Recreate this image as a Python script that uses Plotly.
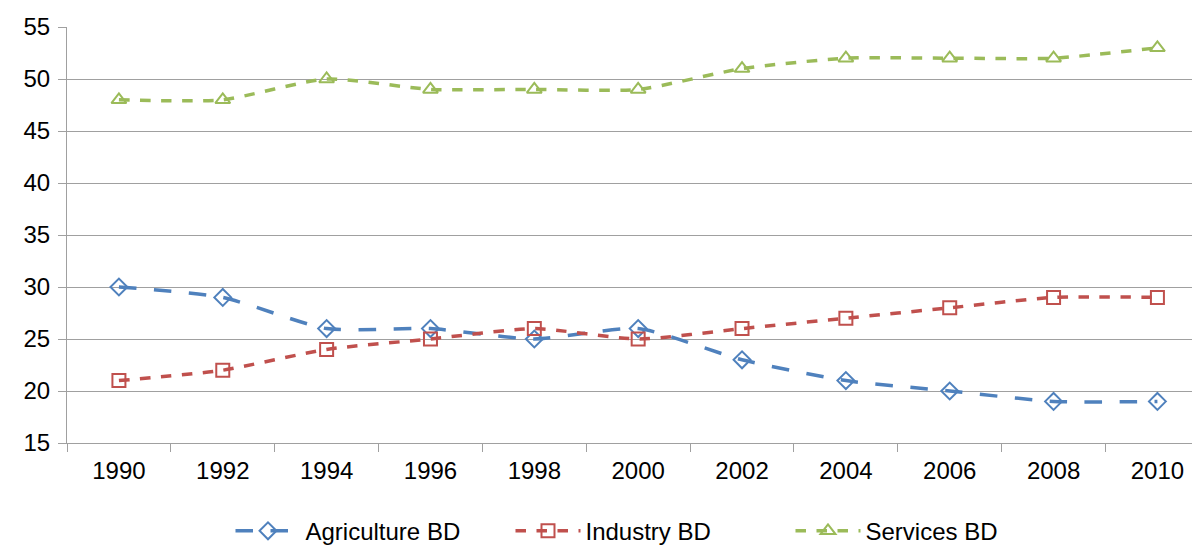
import plotly.graph_objects as go

years = ["1990", "1992", "1994", "1996", "1998", "2000", "2002", "2004", "2006", "2008", "2010"]
agriculture = [30, 29, 26, 26, 25, 26, 23, 21, 20, 19, 19]
industry = [21, 22, 24, 25, 26, 25, 26, 27, 28, 29, 29]
services = [48, 48, 50, 49, 49, 49, 51, 52, 52, 52, 53]

series = [
    ("Agriculture BD", agriculture, "#4F81BD", "diamond-open", "longdash"),
    ("Industry BD", industry, "#C0504D", "square-open", "dash"),
    ("Services BD", services, "#9BBB59", "triangle-up-open", "dash"),
]

fig = go.Figure()
for name, vals, color, symbol, dash in series:
    fig.add_trace(
        go.Scatter(
            x=years,
            y=vals,
            name=name,
            mode="lines+markers",
            line=dict(color=color, width=3.5, dash=dash, shape="spline", smoothing=0.6),
            marker=dict(symbol=symbol, size=13, color=color, line=dict(width=2, color=color)),
        )
    )

# page body has an 8px margin, so the figure is sized to fill the rest
fig.update_layout(
    width=1192,
    height=538,
    paper_bgcolor="white",
    plot_bgcolor="white",
    margin=dict(l=59, r=0, t=19, b=103, autoexpand=False),
    font=dict(family="Liberation Sans, Arial, sans-serif", size=24, color="#000000"),
    showlegend=True,
    legend=dict(
        orientation="h",
        x=0.515,
        xanchor="center",
        y=-0.212,
        yanchor="middle",
        font=dict(size=24),
        itemwidth=65,
        entrywidth=200,
        tracegroupgap=0,
    ),
    xaxis=dict(
        type="category",
        range=[-0.5, 10.41],
        automargin=False,
        showgrid=False,
        showline=True,
        linecolor="#a0a0a0",
        linewidth=1,
        ticks="outside",
        tickson="boundaries",
        ticklen=8,
        tickcolor="#a0a0a0",
        ticklabelstandoff=6,
        tickfont=dict(size=24),
    ),
    yaxis=dict(
        range=[15, 55],
        dtick=5,
        automargin=False,
        showgrid=True,
        gridcolor="#a0a0a0",
        gridwidth=1,
        showline=True,
        linecolor="#a0a0a0",
        linewidth=1,
        ticks="outside",
        ticklen=8,
        tickcolor="#a0a0a0",
        ticklabelstandoff=3,
        zeroline=False,
        tickfont=dict(size=24),
    ),
)

fig.write_html("out.html")
